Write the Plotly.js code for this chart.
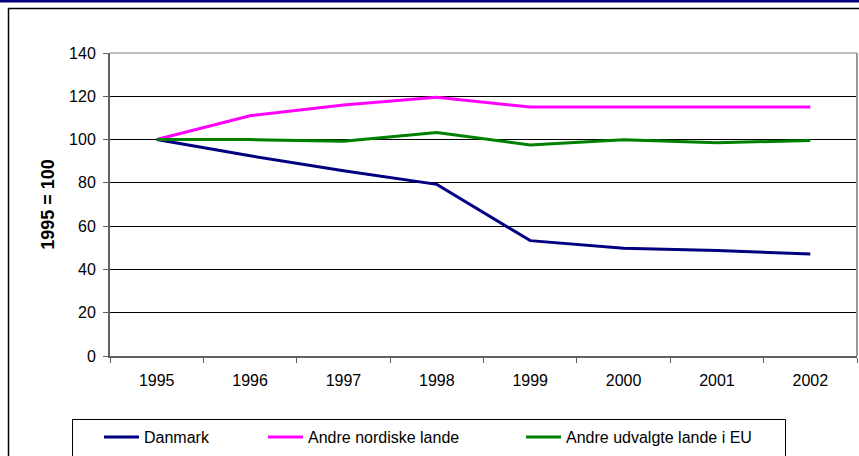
<!DOCTYPE html>
<html>
<head>
<meta charset="utf-8">
<script src="https://cdn.plot.ly/plotly-3.0.1.min.js"></script>
<style>html,body{margin:0;padding:0;background:#fff;}#chart{width:859px;height:456px;}</style>
</head>
<body>
<div id="chart"></div>
<script>
var years = ["1995", "1996", "1997", "1998", "1999", "2000", "2001", "2002"];
var danmark = [100, 92.5, 85.6, 79.3, 53.3, 49.8, 48.7, 47.1];
var nordiske = [100, 111, 116, 119.5, 115, 115, 115, 115];
var eu = [100, 100, 99.2, 103.3, 97.5, 99.9, 98.5, 99.6];
var seriesNames = ["Danmark", "Andre nordiske lande", "Andre udvalgte lande i EU"];
var yTicks = [0, 20, 40, 60, 80, 100, 120, 140];

var W = 859, H = 456, L = 110, R = 2, T = 53, B = 100;
var pw = W - L - R, ph = H - T - B;
function px(x) { return (x - L) / pw; }
function py(y) { return (H - B - y) / ph; }

var font = "Liberation Sans, Arial, sans-serif";
var traces = [
  {x: years, y: danmark, name: seriesNames[0], type: "scatter", mode: "lines", line: {color: "#000080", width: 3}, legend: "legend"},
  {x: years, y: nordiske, name: seriesNames[1], type: "scatter", mode: "lines", line: {color: "#FF00FF", width: 3}, legend: "legend2"},
  {x: years, y: eu, name: seriesNames[2], type: "scatter", mode: "lines", line: {color: "#008000", width: 3}, legend: "legend3"}
];
function leg(xp) {
  return {x: px(xp), xanchor: "left", y: py(437), yanchor: "middle", orientation: "h", itemwidth: 35,
    bgcolor: "rgba(0,0,0,0)", borderwidth: 0, font: {family: font, size: 16, color: "#000"}};
}
var layout = {
  width: W, height: H,
  margin: {l: L, r: R, t: T, b: B, pad: 0},
  paper_bgcolor: "#fff", plot_bgcolor: "#fff",
  font: {family: font, size: 16, color: "#000"},
  showlegend: true,
  legend: leg(99), legend2: leg(263), legend3: leg(521),
  xaxis: {type: "category", range: [-0.5, 7.5], showgrid: false, showline: true, linecolor: "#606060", linewidth: 2,
    ticks: "outside", tickson: "boundaries", ticklen: 5, tickcolor: "#606060", tickwidth: 1,
    ticklabelstandoff: 9, tickfont: {family: font, size: 16}, fixedrange: true, zeroline: false},
  yaxis: {range: [0, 140], tickvals: yTicks, showgrid: true, gridcolor: "#000", gridwidth: 1,
    showline: true, linecolor: "#606060", linewidth: 2, ticks: "outside", ticklen: 5, tickcolor: "#606060",
    ticklabelstandoff: 4, tickfont: {family: font, size: 16}, zeroline: false, fixedrange: true,
    title: {text: "<b>1995 = 100</b>", font: {family: font, size: 18}, standoff: 10}},
  shapes: [
    {type: "line", xref: "paper", yref: "paper", x0: px(0), x1: px(W), y0: py(1), y1: py(1), line: {color: "#000080", width: 3}},
    {type: "line", xref: "paper", yref: "paper", x0: px(8), x1: px(W), y0: py(8.5), y1: py(8.5), line: {color: "#000", width: 1.5}},
    {type: "line", xref: "paper", yref: "paper", x0: px(8.5), x1: px(8.5), y0: py(8), y1: py(H), line: {color: "#000", width: 1.5}},
    {type: "line", xref: "paper", yref: "paper", x0: 1, x1: 1, y0: 0, y1: 1, line: {color: "#999", width: 2}},
    {type: "line", xref: "paper", yref: "paper", x0: 0, x1: 1, y0: 1, y1: 1, line: {color: "#808080", width: 1}},
    {type: "rect", xref: "paper", yref: "paper", x0: px(72.5), x1: px(785.5), y0: py(419.5), y1: py(470), line: {color: "#000", width: 1}, fillcolor: "rgba(0,0,0,0)", layer: "below"}
  ]
};
Plotly.newPlot("chart", traces, layout, {displayModeBar: false, staticPlot: true});
</script>
</body>
</html>
